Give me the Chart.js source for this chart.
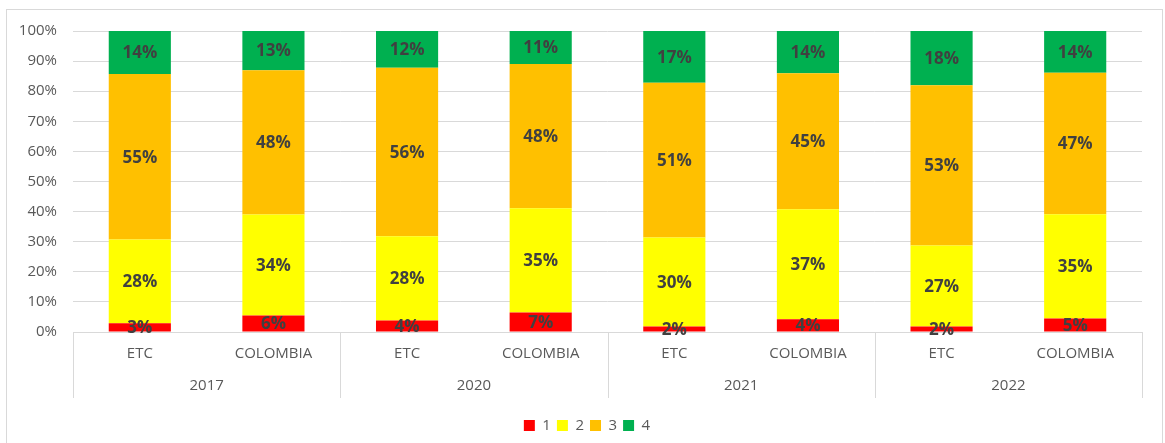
<!DOCTYPE html>
<html>
<head>
<meta charset="utf-8">
<script src="https://cdn.jsdelivr.net/npm/chart.js@4"></script>
<style>
  html, body { margin: 0; padding: 0; background: #fff; }
  #wrap { width: 1165px; height: 443px; }
</style>
</head>
<body>
<div id="wrap"><canvas id="chart"></canvas></div>
<script>
// category labels (two levels)
const groups = ['ETC', 'COLOMBIA', 'ETC', 'COLOMBIA', 'ETC', 'COLOMBIA', 'ETC', 'COLOMBIA'];
const years = ['2017', '2020', '2021', '2022'];

// percentage shares per level
const level1 = [2.9, 5.5, 3.8, 6.5, 1.8, 4.2, 1.8, 4.5];
const level2 = [27.8, 33.5, 28.0, 34.6, 29.6, 36.6, 26.9, 34.6];
const level3 = [55.0, 48.0, 56.0, 47.9, 51.4, 45.2, 53.3, 47.0];
const level4 = [14.3, 13.0, 12.2, 11.0, 17.2, 14.0, 18.0, 13.9];

const yTicks = [0, 10, 20, 30, 40, 50, 60, 70, 80, 90, 100];

const GRID = '#d9d9d9';
const TXT = '#595959';
const FONT = "'Open Sans', 'Liberation Sans', sans-serif";

// outer frame like the spreadsheet chart box
const framePlugin = {
  id: 'frame',
  beforeDraw(chart) {
    const c = chart.ctx;
    c.save();
    c.fillStyle = '#fff';
    c.fillRect(0, 0, chart.width, chart.height);
    c.strokeStyle = GRID;
    c.lineWidth = 1;
    c.strokeRect(6.5, 9.5, 1156, 500);
    c.restore();
  }
};

// legend is centred on the whole frame, not the padded area
const legendShift = {
  id: 'legendShift',
  afterLayout(chart) {
    if (chart.legend) {
      chart.legend.left += 16;
      chart.legend.right += 16;
    }
  }
};

// year row + separators under the x axis
const groupAxisPlugin = {
  id: 'groupAxis',
  afterDraw(chart) {
    const x = chart.scales.x;
    const c = chart.ctx;
    const step = (x.right - x.left) / groups.length;
    const top = chart.chartArea.bottom;
    c.save();
    c.strokeStyle = GRID;
    c.lineWidth = 1;
    for (let g = 0; g <= years.length; g++) {
      const px = Math.round(x.left + g * 2 * step) + 0.5;
      c.beginPath();
      c.moveTo(px, top);
      c.lineTo(px, top + 66);
      c.stroke();
    }
    c.fillStyle = TXT;
    c.font = '15px ' + FONT;
    c.textAlign = 'center';
    c.textBaseline = 'middle';
    years.forEach((yr, g) => {
      const cx = (x.getPixelForValue(2 * g) + x.getPixelForValue(2 * g + 1)) / 2;
      c.fillText(yr, cx, top + 54);
    });
    c.restore();
  }
};

// percentage labels centred in each segment
const segLabelPlugin = {
  id: 'segLabels',
  afterDatasetsDraw(chart) {
    const c = chart.ctx;
    c.save();
    c.fillStyle = '#404040';
    c.font = 'bold 17px ' + FONT;
    c.textAlign = 'center';
    c.textBaseline = 'middle';
    chart.data.datasets.forEach((ds, di) => {
      const meta = chart.getDatasetMeta(di);
      meta.data.forEach((bar, i) => {
        const p = bar.getProps(['x', 'y', 'base'], true);
        c.fillText(Math.round(ds.data[i]) + '%', p.x, (p.y + p.base) / 2 + 1);
      });
    });
    c.restore();
  }
};

const ctx = document.getElementById('chart').getContext('2d');
const chart = new Chart(ctx, {
  type: 'bar',
  data: {
    labels: groups,
    datasets: [
      { label: '1', data: level1, backgroundColor: '#ff0000' },
      { label: '2', data: level2, backgroundColor: '#ffff00' },
      { label: '3', data: level3, backgroundColor: '#ffc000' },
      { label: '4', data: level4, backgroundColor: '#00b050' }
    ]
  },
  options: {
    responsive: true,
    maintainAspectRatio: false,
    animation: false,
    datasets: {
      bar: { categoryPercentage: 1, barPercentage: 0.465 }
    },
    layout: { padding: { top: 31, right: 23, left: 0, bottom: 0 } },
    scales: {
      x: {
        stacked: true,
        grid: { display: false, drawTicks: false },
        border: { color: GRID },
        ticks: { color: TXT, font: { size: 15, family: FONT }, padding: 13, maxRotation: 0 },
        afterFit(s) { s.height = 80; }
      },
      y: {
        stacked: true,
        min: 0,
        max: 100,
        afterBuildTicks(s) { s.ticks = yTicks.map(v => ({ value: v })); },
        grid: { color: GRID, drawTicks: false },
        border: { display: false },
        ticks: {
          color: TXT,
          font: { size: 15, family: FONT },
          padding: 16,
          callback: v => v + '%'
        },
        afterFit(s) { s.width = 73; }
      }
    },
    plugins: {
      legend: {
        position: 'bottom',
        labels: {
          boxWidth: 11,
          boxHeight: 11,
          padding: 6,
          color: TXT,
          font: { size: 15, family: FONT }
        }
      },
      tooltip: { enabled: false }
    }
  },
  plugins: [framePlugin, legendShift, groupAxisPlugin, segLabelPlugin]
});
</script>
</body>
</html>
